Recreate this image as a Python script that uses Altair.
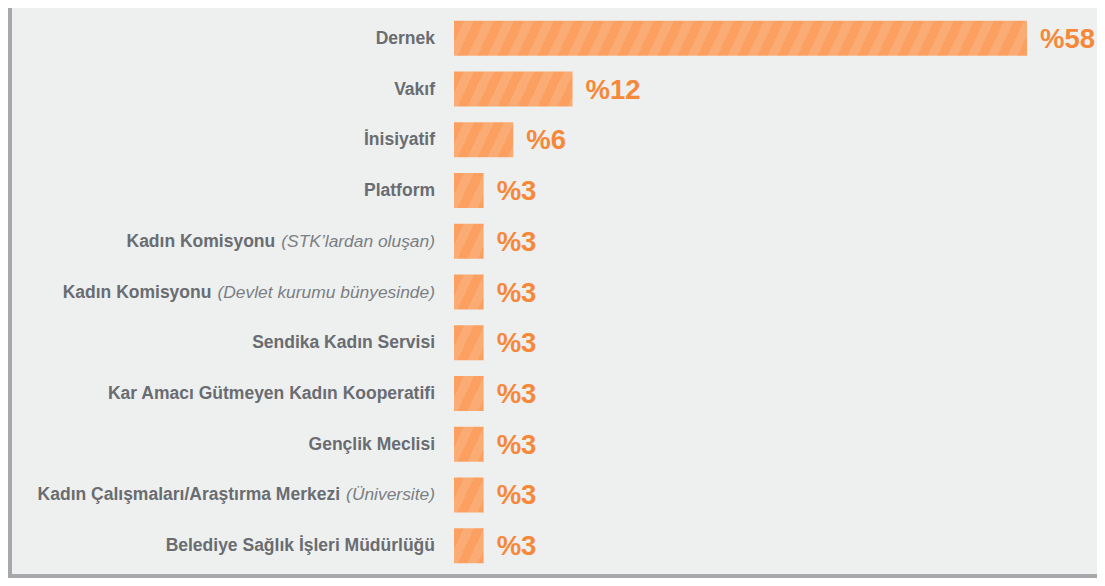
import altair as alt
import pandas as pd

# ---- data ----
labels = ["Dernek", "Vakıf", "İnisiyatif", "Platform", "Kadın Komisyonu",
          "Kadın Komisyonu", "Sendika Kadın Servisi",
          "Kar Amacı Gütmeyen Kadın Kooperatifi", "Gençlik Meclisi",
          "Kadın Çalışmaları/Araştırma Merkezi", "Belediye Sağlık İşleri Müdürlüğü"]
notes = ["", "", "", "", "(STK’lardan oluşan)", "(Devlet kurumu bünyesinde)",
         "", "", "", "(Üniversite)", ""]
values = [58, 12, 6, 3, 3, 3, 3, 3, 3, 3, 3]

# ---- style / layout ----
BG = "#EEF0EF"
DARK = "#FCA062"
LIGHT = "#FBAC74"
LABEL_ORANGE = "#F6883A"
GREY_BOLD = "#696C71"
GREY_IT = "#7B7E83"
FRAME = "#A7A8AB"
FONT = "Liberation Sans"

PLOT_W, PLOT_H = 573, 558
PAD_L, PAD_T, PAD_R, PAD_B = 446, 5, 70, 7
P_INNER = 0.31
BAR_H = PLOT_H / len(labels) * (1 - P_INNER)
LABEL_GAP = 19
IT_SIZE = 17.4
BOLD_SIZE = 17.5

# Arial / Liberation Sans regular advance widths (per 1000 em)
W_REG = {" ": 278, "(": 333, ")": 333, "’": 222, "a": 556, "b": 556, "c": 500,
         "d": 556, "e": 556, "f": 278, "g": 556, "h": 556, "i": 222, "k": 500,
         "l": 222, "m": 833, "n": 556, "o": 556, "r": 333, "s": 500, "t": 278,
         "u": 556, "v": 500, "y": 500, "ş": 500, "ü": 556, "D": 722, "K": 667,
         "S": 667, "T": 611, "Ü": 722}


def text_w(s, size):
    return sum(W_REG.get(ch, 556) for ch in s) / 1000 * size


keys = [(l + " " + n).strip() for l, n in zip(labels, notes)]
bold_x = [-LABEL_GAP - (text_w(n, IT_SIZE) + 6 if n else 0) for n in notes]
df = pd.DataFrame({"key": keys, "label": labels, "note": notes, "v": values,
                   "pct": ["%" + str(v) for v in values], "bx": bold_x})

vmax = max(values)


def stripes(v):
    W = v * PLOT_W / vmax
    H = BAR_H
    a, P = 0.47, 20.0
    r = a * H / W
    total = W + a * H
    s = (1 + r) / (1 + r * r)
    stops = []
    pos, k, half = 0.0, 0, P / 2
    while pos < total:
        c = DARK if k % 2 == 0 else LIGHT
        stops.append(alt.GradientStop(offset=round(pos / total, 5), color=c))
        stops.append(alt.GradientStop(offset=round(min((pos + half) / total, 1), 5), color=c))
        pos += half
        k += 1
    return alt.LinearGradient(gradient="linear", stops=stops, x1=0, y1=0,
                              x2=round(s, 5), y2=round(s * r, 5))


y_enc = alt.Y("key:N", sort=keys, axis=None,
              scale=alt.Scale(paddingInner=P_INNER, paddingOuter=P_INNER / 2))
x_enc = alt.X("v:Q", axis=None, scale=alt.Scale(domain=[0, vmax], nice=False))

layers = []
for v in sorted(set(values)):
    layers.append(
        alt.Chart().mark_bar(color=stripes(v), strokeWidth=0)
        .encode(x=x_enc, y=y_enc)
        .transform_filter(alt.datum.v == v)
    )

pct_text = alt.Chart().mark_text(
    align="left", baseline="middle", dx=13, dy=1.5, font=FONT,
    fontWeight="bold", fontSize=27.5, color=LABEL_ORANGE
).encode(x=x_enc, y=y_enc, text="pct:N")

bold_text = alt.Chart().mark_text(
    align="right", baseline="middle", dy=0.5, font=FONT, fontWeight="bold",
    fontSize=BOLD_SIZE, color=GREY_BOLD
).encode(x=alt.X("bx:Q", scale=None), y=y_enc, text="label:N")

it_text = alt.Chart().mark_text(
    align="right", baseline="middle", dy=0.5, font=FONT, fontStyle="italic",
    fontSize=IT_SIZE, color=GREY_IT
).encode(x=alt.value(-LABEL_GAP), y=y_enc, text="note:N")

left_line = alt.Chart().mark_rule(color=FRAME, strokeWidth=4).encode(
    x=alt.value(-PAD_L + 2), y=alt.value(-PAD_T), y2=alt.value(PLOT_H + PAD_B))
bottom_line = alt.Chart().mark_rule(color=FRAME, strokeWidth=4).encode(
    x=alt.value(-PAD_L), x2=alt.value(PLOT_W + PAD_R), y=alt.value(PLOT_H + PAD_B - 2))

chart = alt.layer(*layers, pct_text, bold_text, it_text, left_line, bottom_line,
                  data=df).properties(
    width=PLOT_W, height=PLOT_H,
    padding={"left": PAD_L, "top": PAD_T, "right": PAD_R, "bottom": PAD_B},
    autosize=alt.AutoSizeParams(type="none"),
).configure(background=BG).configure_view(stroke=None)

chart.save("out.html", embed_options={"renderer": "svg", "actions": False})
